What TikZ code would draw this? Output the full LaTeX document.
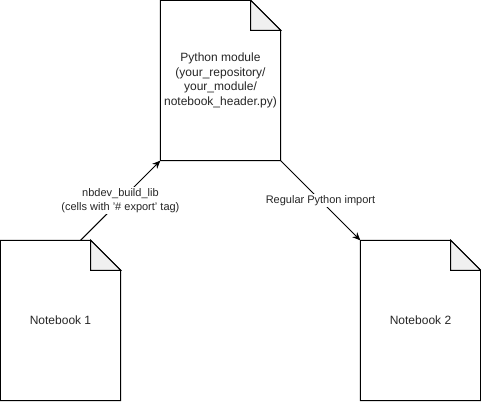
\documentclass[tikz,border=0pt]{standalone}
\usepackage{fontspec}
\setmainfont{Liberation Sans}
\usetikzlibrary{arrows.meta,calc}
\tikzset{
  docbox/.style={minimum width=120pt, minimum height=160pt, inner sep=0pt, align=center, font=\fontsize{12}{14.5}\selectfont, text=black!85},
  docline/.style={line width=1pt, line join=miter},
  foldfill/.style={fill=black!6, line width=1pt},
  conn/.style={line width=1pt, -{Stealth[length=8pt,width=7pt]}},
  lbl/.style={fill=white, inner sep=1pt, align=center, font=\fontsize{11}{14.5}\selectfont, text=black!85}
}
\newcommand{\docshape}[1]{%
  \draw[docline, fill=white] (#1.north west) -- ($(#1.north east)+(-30pt,0)$) -- ($(#1.north east)+(0,-30pt)$) -- (#1.south east) -- (#1.south west) -- cycle;
  \draw[foldfill] ($(#1.north east)+(-30pt,0)$) -- ($(#1.north east)+(-30pt,-30pt)$) -- ($(#1.north east)+(0,-30pt)$) -- cycle;
}
\begin{document}
\begin{tikzpicture}[x=1pt,y=-1pt]
\useasboundingbox (0,0) rectangle (481,401);
\node[docbox] (mod) at (220.5,80.5) {};
\node[docbox] (nb1) at (60.5,320.5) {};
\node[docbox] (nb2) at (420.5,320.5) {};
\docshape{mod}
\docshape{nb1}
\docshape{nb2}
\node[docbox] at (mod.center) {Python module\\(your\_repository/\\your\_module/\\notebook\_header.py)};
\node[docbox] at (nb1.center) {Notebook 1};
\node[docbox] at (nb2.center) {Notebook 2};
\coordinate (s1) at ($(nb1.north west)!0.6667!(nb1.north east)$);
\draw[conn] (s1) -- node[lbl] {nbdev\_build\_lib\\(cells with '\# export' tag)} (mod.south west);
\draw[conn] (mod.south east) -- node[lbl] {Regular Python import} (nb2.north west);
\end{tikzpicture}
\end{document}
